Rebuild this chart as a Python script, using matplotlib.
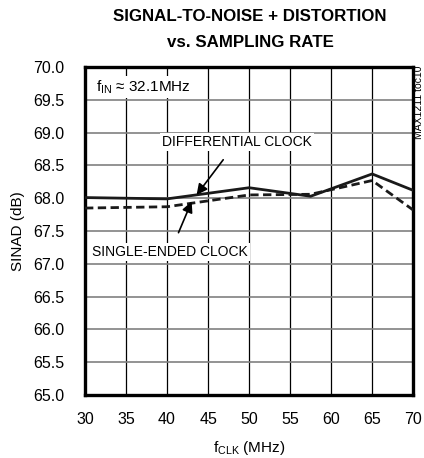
import matplotlib
matplotlib.use("Agg")
import matplotlib.pyplot as plt
from matplotlib import font_manager

# font: narrow sans if present
names = {f.name for f in font_manager.fontManager.ttflist}
fam = 'Liberation Sans Narrow' if 'Liberation Sans Narrow' in names else 'Liberation Sans'
plt.rcParams['font.family'] = [fam, 'DejaVu Sans']
plt.rcParams['mathtext.fontset'] = 'custom'
plt.rcParams['mathtext.rm'] = fam

# data
fclk = [30, 40, 50, 57.5, 65, 70]
sinad_diff = [68.01, 67.99, 68.16, 68.03, 68.37, 68.12]
sinad_single = [67.85, 67.87, 68.05, 68.06, 68.27, 67.82]

x_ticks = [30, 35, 40, 45, 50, 55, 60, 65, 70]
y_ticks = [65.0, 65.5, 66.0, 66.5, 67.0, 67.5, 68.0, 68.5, 69.0, 69.5, 70.0]

fig = plt.figure(figsize=(4.24, 4.58), dpi=100)
ax = fig.add_axes([0.2005, 0.1376, 0.774, 0.716])

ax.plot(fclk, sinad_diff, color='#1a1a1a', lw=2.0, solid_joinstyle='miter', zorder=3)
ax.plot(fclk, sinad_single, color='#1a1a1a', lw=2.0, ls=(0, (3, 1.6)), zorder=3)

ax.set_xlim(30, 70)
ax.set_ylim(65, 70)
ax.set_xticks(x_ticks)
ax.set_yticks(y_ticks)
ax.set_xticklabels([str(t) for t in x_ticks])
ax.set_yticklabels([f'{t:.1f}' for t in y_ticks])
ax.tick_params(axis='x', length=0, labelsize=11.5, pad=12)
ax.tick_params(axis='y', length=0, labelsize=11.5, pad=15)
ax.grid(True, axis='x', color='black', lw=0.9)
ax.grid(True, axis='y', color='#808080', lw=1.2)
ax.set_axisbelow(True)
for s in ax.spines.values():
    s.set_linewidth(2.4)
    s.set_color('black')

ax.set_xlabel(r'f$_{\mathregular{CLK}}$ (MHz)', fontsize=11, labelpad=9)
ax.set_ylabel('SINAD (dB)', fontsize=11, labelpad=6)

fig.text(0.59, 0.965, 'SIGNAL-TO-NOISE + DISTORTION', ha='center', va='center',
         fontsize=12.2, fontweight='bold')
fig.text(0.59, 0.907, 'vs. SAMPLING RATE', ha='center', va='center',
         fontsize=12.2, fontweight='bold')

box = dict(facecolor='white', edgecolor='none', pad=1.5)
ax.text(31.3, 69.70, r'f$_{\mathregular{IN}}$ ≈ 32.1MHz', fontsize=11, ha='left', va='center',
        bbox=box, zorder=4)
ax.annotate('DIFFERENTIAL CLOCK', xy=(43.6, 68.05), xytext=(48.5, 68.86),
            fontsize=10, ha='center', va='center', bbox=box, zorder=4,
            arrowprops=dict(arrowstyle='-|>', color='black', lw=1.2,
                            mutation_scale=16, shrinkA=8, shrinkB=0))
ax.annotate('SINGLE-ENDED CLOCK', xy=(43.0, 67.95), xytext=(40.4, 67.18),
            fontsize=10, ha='center', va='center', bbox=box, zorder=4,
            arrowprops=dict(arrowstyle='-|>', color='black', lw=1.2,
                            mutation_scale=16, shrinkA=8, shrinkB=0))

fig.text(0.988, 0.858, 'MAX1211 toc10', rotation=90, ha='center', va='top',
         fontsize=7.5)

fig.savefig('out.png', dpi=100)
